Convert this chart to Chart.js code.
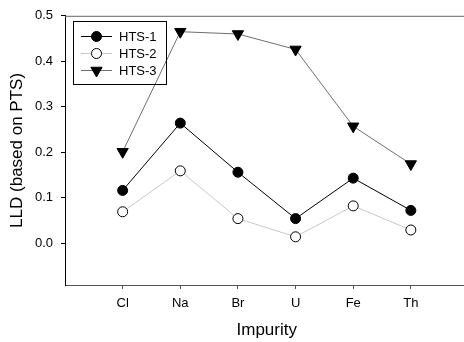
<!DOCTYPE html>
<html>
<head>
<meta charset="utf-8">
<script src="https://cdn.jsdelivr.net/npm/chart.js@4/dist/chart.umd.min.js"></script>
<style>
  html, body { margin: 0; padding: 0; background: #fff; overflow: hidden; }
  #wrap { width: 464px; height: 342px; overflow: hidden; }
</style>
</head>
<body>
<div id="wrap"><canvas id="grafica" width="476" height="342"></canvas></div>
<script>
// impurezas en el eje x
const impurezas = ["Cl", "Na", "Br", "U", "Fe", "Th"];

// valores LLD
const hts1 = [0.116, 0.264, 0.156, 0.054, 0.143, 0.072];
const hts2 = [0.069, 0.159, 0.054, 0.014, 0.082, 0.029];
const hts3 = [0.201, 0.465, 0.460, 0.426, 0.257, 0.174];

const ticksY = [0.0, 0.1, 0.2, 0.3, 0.4, 0.5];

const series = [
    { label: "HTS-1", data: hts1, line: "#000000", fill: "#000000", style: "circle", rot: 0, r: 5 },
    { label: "HTS-2", data: hts2, line: "#c8c8c8", fill: "#ffffff", style: "circle", rot: 0, r: 5 },
    { label: "HTS-3", data: hts3, line: "#6e6e6e", fill: "#000000", style: "triangle", rot: 180, r: 6.5 }
];

const fuente = "Liberation Sans, Arial, sans-serif";

// leyenda con linea + marcador dentro de un recuadro
const leyenda = {
    id: "leyenda",
    afterDraw(chart) {
        const ctx = chart.ctx;
        ctx.save();
        ctx.strokeStyle = "#000";
        ctx.lineWidth = 1;
        ctx.strokeRect(73.5, 21.5, 93, 63);
        series.forEach((s, i) => {
            const y = 36 + i * 17;
            ctx.strokeStyle = s.line;
            ctx.beginPath();
            ctx.moveTo(81, y + 0.5);
            ctx.lineTo(112, y + 0.5);
            ctx.stroke();
            ctx.fillStyle = s.fill;
            ctx.strokeStyle = "#000";
            Chart.helpers.drawPoint(ctx, { pointStyle: s.style, rotation: s.rot, radius: s.r, borderWidth: 1 }, 96.5, y + 0.5);
            ctx.fillStyle = "#000";
            ctx.font = "13px " + fuente;
            ctx.textBaseline = "middle";
            ctx.fillText(s.label, 119, y + 1);
        });
        // linea superior del marco
        const a = chart.chartArea;
        ctx.strokeStyle = "#666";
        ctx.beginPath();
        ctx.moveTo(a.left, a.top + 0.5);
        ctx.lineTo(a.right, a.top + 0.5);
        ctx.stroke();
        ctx.restore();
    }
};

new Chart(document.getElementById("grafica"), {
    type: "line",
    data: {
        datasets: series.map(s => ({
            label: s.label,
            data: s.data.map((v, i) => ({ x: i + 1, y: v })),
            borderColor: s.line,
            borderWidth: 1,
            pointStyle: s.style,
            pointRotation: s.rot,
            pointRadius: s.r,
            pointHoverRadius: s.r,
            pointBackgroundColor: s.fill,
            pointBorderColor: "#000",
            pointBorderWidth: 1,
            tension: 0
        }))
    },
    options: {
        responsive: false,
        animation: false,
        layout: { padding: { top: 13, right: 4, left: 0, bottom: 0 } },
        plugins: {
            legend: { display: false },
            tooltip: { enabled: false }
        },
        scales: {
            x: {
                type: "linear",
                min: 0,
                max: 7,
                afterBuildTicks: ax => { ax.ticks = impurezas.map((_, i) => ({ value: i + 1 })); },
                ticks: {
                    callback: v => impurezas[v - 1] || "",
                    color: "#000",
                    font: { family: fuente, size: 13 },
                    padding: 7,
                    maxRotation: 0
                },
                grid: { drawOnChartArea: false, drawTicks: true, tickLength: 4, color: "#555" },
                border: { display: true, color: "#555", width: 1 },
                title: {
                    display: true,
                    text: "Impurity",
                    color: "#000",
                    font: { family: fuente, size: 17 },
                    padding: { top: 0, bottom: 1 }
                },
                afterFit: ax => { ax.height = 57; }
            },
            y: {
                min: -0.092,
                max: 0.5,
                afterBuildTicks: ax => { ax.ticks = ticksY.map(v => ({ value: v })); },
                ticks: {
                    callback: v => v.toFixed(1),
                    color: "#000",
                    font: { family: fuente, size: 13 },
                    padding: 8
                },
                grid: { drawOnChartArea: false, drawTicks: true, tickLength: 4, color: "#000" },
                border: { display: true, color: "#000", width: 1 },
                title: {
                    display: true,
                    text: "LLD (based on PTS)",
                    color: "#000",
                    font: { family: fuente, size: 17 },
                    padding: { top: 7, bottom: 0 }
                },
                afterFit: ax => { ax.width = 65; }
            }
        }
    },
    plugins: [leyenda]
});
</script>
</body>
</html>
